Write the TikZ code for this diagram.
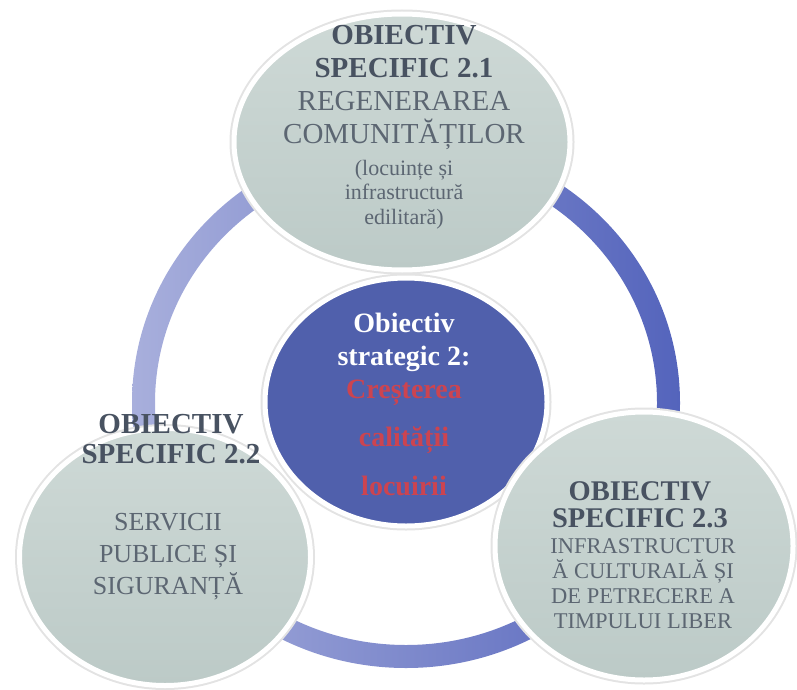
\documentclass[tikz,border=0pt]{standalone}
\usepackage{fontspec}
\setmainfont{Liberation Serif}
\usetikzlibrary{shapes.geometric}
\definecolor{ringlight}{RGB}{168,175,220}
\definecolor{ringdark}{RGB}{84,100,188}
\definecolor{specfill}{RGB}{206,217,214}
\definecolor{specfilldark}{RGB}{188,202,199}
\definecolor{stratfill}{RGB}{80,96,172}
\definecolor{headgray}{RGB}{72,82,97}
\definecolor{bodygray}{RGB}{92,102,114}
\definecolor{stratred}{RGB}{204,68,80}
\begin{document}
\begin{tikzpicture}[x=1pt,y=-1pt,
        bubble/.style={ellipse,inner sep=0,draw=white,line width=5pt,
          preaction={draw=black!11,line width=9pt}},
        specific/.style={bubble,top color=specfill,bottom color=specfilldark},
        strategic/.style={bubble,fill=stratfill},
        body/.style={align=center,inner sep=0,anchor=base,text=bodygray},
        head/.style={body,text=headgray,font=\bfseries\fontsize{29}{33}\selectfont}]
  \useasboundingbox (0,0) rectangle (797,690);
  % ring behind the circles
  \shade[left color=ringlight,right color=ringdark,even odd rule]
    (406,403) ellipse [x radius=274,y radius=265]
    (406,403) ellipse [x radius=251,y radius=242];
  \node[specific,minimum width=336pt,minimum height=256pt] (spec1) at (402,142) {};
  \node[strategic,minimum width=282pt,minimum height=248pt] (strat) at (406,402) {};
  \node[specific,minimum width=291pt,minimum height=257pt] (spec2) at (165,557) {};
  \node[specific,minimum width=298pt,minimum height=268pt] (spec3) at (644,546) {};
  % texts (anchored at the baseline of their last line)
  \node[head] (spec1head) at (404,78) {OBIECTIV\\SPECIFIC 2.1};
  \node[body,font=\fontsize{29}{33}\selectfont] (spec1name) at (404,143) {REGENERAREA\\COMUNITĂȚILOR};
  \node[body,font=\fontsize{22}{24.5}\selectfont] (spec1note) at (404,224) {(locuințe și\\infrastructură\\edilitară)};
  \node[body,text=white,font=\bfseries\fontsize{28}{33}\selectfont] (stratname) at (404,365) {Obiectiv\\strategic 2:};
  \node[body,text=stratred,font=\bfseries\fontsize{28}{48.5}\selectfont] (stratgoal) at (404,495) {Creșterea\\calității\\locuirii};
  \node[head,font=\bfseries\fontsize{29}{30}\selectfont] (spec2head) at (171,463) {OBIECTIV\\SPECIFIC 2.2};
  \node[body,font=\fontsize{26}{32}\selectfont] (spec2name) at (168,594) {SERVICII\\PUBLICE ȘI\\SIGURANȚĂ};
  \node[head,font=\bfseries\fontsize{28.5}{27}\selectfont] (spec3head) at (640,527) {OBIECTIV\\SPECIFIC 2.3};
  \node[body,font=\fontsize{22.5}{25}\selectfont] (spec3name) at (643,628) {INFRASTRUCTUR\\Ă CULTURALĂ ȘI\\DE PETRECERE A\\TIMPULUI LIBER};
\end{tikzpicture}
\end{document}
